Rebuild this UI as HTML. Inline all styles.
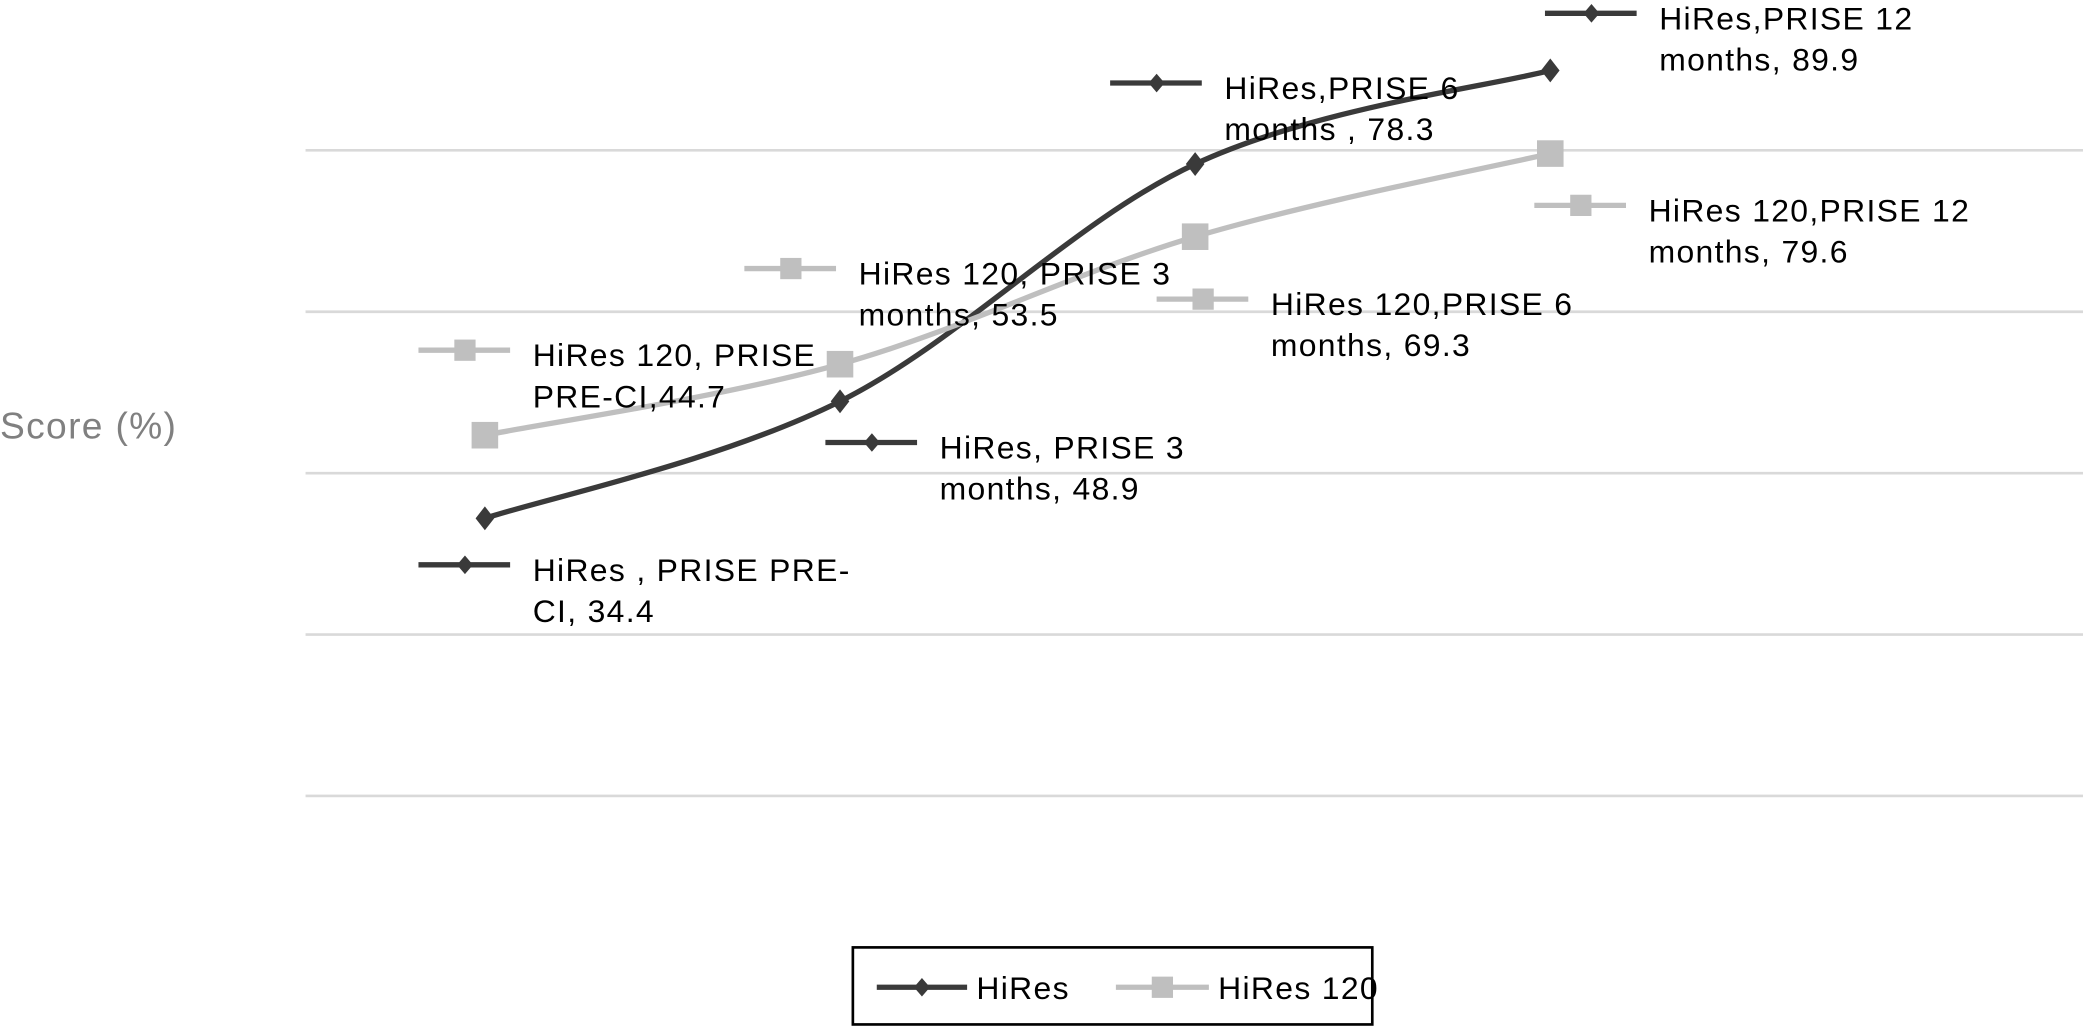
<!DOCTYPE html>
<html><head><meta charset="utf-8"><style>
html,body{margin:0;padding:0;background:#fff;}
svg{display:block;}
text{font-family:"Liberation Sans",sans-serif;}
</style></head><body>
<svg id="chart" width="2083" height="1026" viewBox="0 0 1568 772" xmlns="http://www.w3.org/2000/svg">
<text x="0" y="330" font-size="28" letter-spacing="1" fill="#808080">Score (%)</text>
<g id="grid"></g>
<g id="series"></g>
<g id="labels"></g>
<g>
<rect x="642" y="713" width="391" height="58" fill="#fff" stroke="#000" stroke-width="2"/>
<g>
<line x1="660" y1="743" x2="728" y2="743" stroke="#3a3a3a" stroke-width="4"/>
<path d="M694 736 L700 743 L694 750 L688 743 Z" fill="#3a3a3a"/>
<text x="735" y="752" font-size="24" letter-spacing="1" fill="#000">HiRes</text></g>
<g>
<line x1="840" y1="743" x2="910" y2="743" stroke="#bfbfbf" stroke-width="4"/>
<rect x="867" y="735" width="16" height="16" fill="#bfbfbf"/>
<text x="917" y="752" font-size="24" letter-spacing="1" fill="#000">HiRes 120</text></g>
</g>
</svg>
<script>
const categories = ["PRE-CI", "3 months", "6 months", "12 months"];
const hiresValues = [34.4, 48.9, 78.3, 89.9];
const hires120Values = [44.7, 53.5, 69.3, 79.6];
const gridTicks = [0, 20, 40, 60, 80];
const hiresLabels = ["HiRes , PRISE PRE-|CI, 34.4", "HiRes, PRISE 3|months, 48.9", "HiRes,PRISE 6|months , 78.3", "HiRes,PRISE 12|months, 89.9"];
const hires120Labels = ["HiRes 120, PRISE|PRE-CI,44.7", "HiRes 120, PRISE 3|months, 53.5", "HiRes 120,PRISE 6|months, 69.3", "HiRes 120,PRISE 12|months, 79.6"];

const NS = "http://www.w3.org/2000/svg";
function xScale(i){ return 365 + i * 267.33; }
function yScale(v){ return 599 - v * 6.075; }
function mk(tag, attrs, parent){ const e=document.createElementNS(NS,tag); for(const k in attrs) e.setAttribute(k, attrs[k]); parent.appendChild(e); return e; }

const grid=document.getElementById('grid');
gridTicks.forEach(t=>{
  const l=mk('line',{x1:230,x2:1568,y1:yScale(t),y2:yScale(t),stroke:'#d9d9d9','stroke-width':2},grid);
  
  
});

function smoothPath(pts){
  let d='M'+pts[0][0]+' '+pts[0][1];
  for(let i=0;i<pts.length-1;i++){
    const p0=pts[Math.max(i-1,0)],p1=pts[i],p2=pts[i+1],p3=pts[Math.min(i+2,pts.length-1)];
    const t=0.17;
    const c1=[p1[0]+(p2[0]-p0[0])*t,p1[1]+(p2[1]-p0[1])*t];
    const c2=[p2[0]-(p3[0]-p1[0])*t,p2[1]-(p3[1]-p1[1])*t];
    d+=' C'+c1[0]+' '+c1[1]+' '+c2[0]+' '+c2[1]+' '+p2[0]+' '+p2[1];
  }
  return d;
}
const series=document.getElementById('series');
const labels=document.getElementById('labels');
function drawMarker(kind,x,y,color,parent,name){
  let m;
  if(kind==='diamond') m=mk('path',{d:`M${x} ${y-9} L${x+7} ${y} L${x} ${y+9} L${x-7} ${y} Z`,fill:color},parent);
  else m=mk('rect',{x:x-10,y:y-10,width:20,height:20,fill:color},parent);
  
  
}
function drawSeries(vals,color,kind,name,labs,offs){
  const pts=vals.map((v,i)=>[xScale(i),yScale(v)]);
  const p=mk('path',{d:smoothPath(pts),fill:'none',stroke:color,'stroke-width':4},series);
  
  
  pts.forEach((pt,i)=>drawMarker(kind,pt[0],pt[1],color,series,name+'-point-'+i));
  labs.forEach((lab,i)=>{
    const g=mk('g',{},labels);
    
    
    const kx=pts[i][0]+offs[i][0], ky=pts[i][1]+offs[i][1];
    mk('line',{x1:kx,x2:kx+69,y1:ky,y2:ky,stroke:color,'stroke-width':4},g);
    if(kind==='diamond') mk('path',{d:`M${kx+35} ${ky-7} L${kx+41} ${ky} L${kx+35} ${ky+7} L${kx+29} ${ky} Z`,fill:color},g);
    else mk('rect',{x:kx+27,y:ky-8,width:16,height:16,fill:color},g);
    const lines=lab.split('|');
    lines.forEach((s,j)=>{
      const t=mk('text',{x:kx+86,y:ky+12+j*31,'font-size':24,'letter-spacing':1,fill:'#000'},g);
      t.textContent=s;
    });
  });
}
drawSeries(hiresValues,'#3a3a3a','diamond','hires',hiresLabels,[[-50,35],[-11,31],[-64,-61],[-4,-43]]);
drawSeries(hires120Values,'#bfbfbf','square','hires-120',hires120Labels,[[-50,-64],[-72,-72],[-29,47],[-12,39]]);
</script>
</body></html>
